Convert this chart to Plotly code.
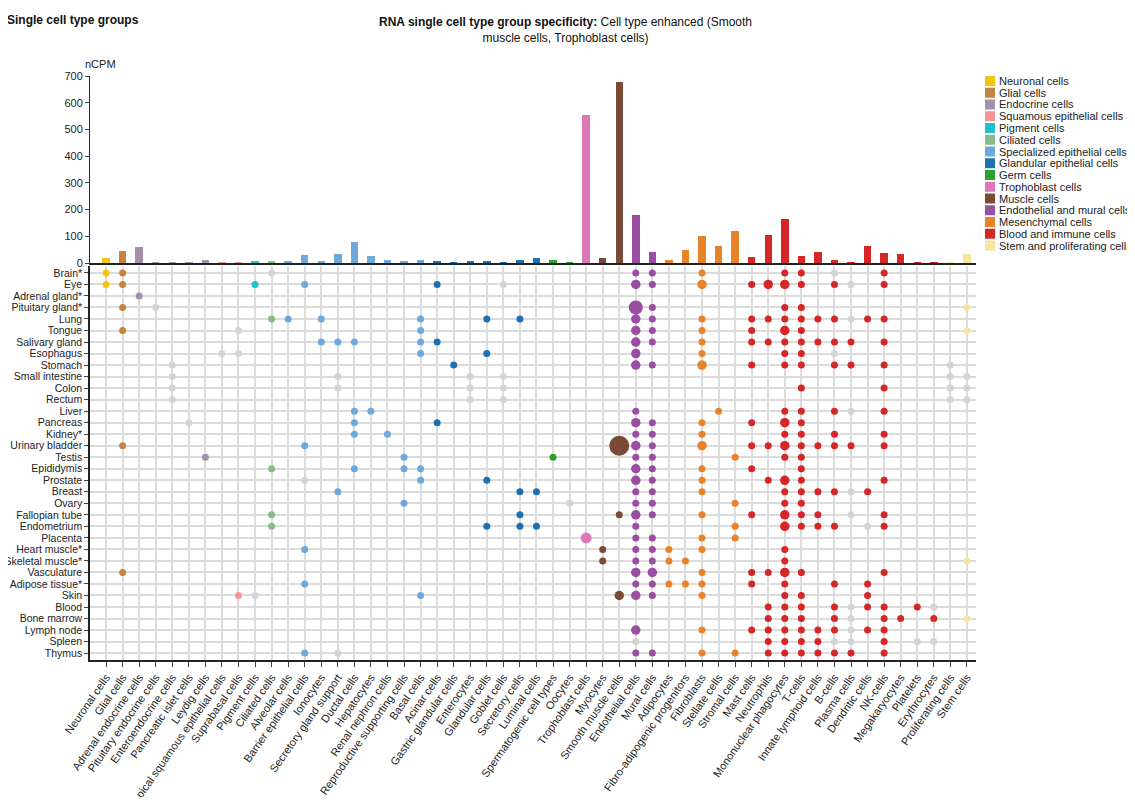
import plotly.graph_objects as go

cell_types = ["Neuronal cells","Glial cells","Adrenal endocrine cells","Pituitary endocrine cells","Enteroendocrine cells",
"Pancreatic islet cells","Leydig cells","Apical squamous epithelial cells","Suprabasal cells","Pigment cells","Ciliated cells",
"Alveolar cells","Barrier epithelial cells","Ionocytes","Secretory gland support","Ductal cells","Hepatocytes",
"Renal nephron cells","Reproductive supporting cells","Basal cells","Acinar cells","Gastric glandular cells","Enterocytes",
"Glandular cells","Goblet cells","Secretory cells","Luminal cells","Spermatogenic cell types","Oocytes","Trophoblast cells",
"Myocytes","Smooth muscle cells","Endothelial cells","Mural cells","Adipocytes","Fibro-adipogenic progenitors","Fibroblasts",
"Stellate cells","Stromal cells","Mast cells","Neutrophils","Mononuclear phagocytes","T-cells","Innate lymphoid cells",
"B-cells","Plasma cells","Dendritic cells","NK-cells","Megakaryocytes","Platelets","Erythrocytes","Proliferating cells","Stem cells"]

ncpm = [20,45,60,2,2,2,10,3,3,8,8,5,30,5,35,78,28,10,8,12,6,3,5,4,3,10,17,10,2,555,18,678,178,42,10,50,100,65,118,22,105,165,25,40,10,3,65,37,33,3,2,3,33]

group_names = ["Neuronal cells","Glial cells","Endocrine cells","Squamous epithelial cells","Pigment cells","Ciliated cells",
"Specialized epithelial cells","Glandular epithelial cells","Germ cells","Trophoblast cells","Muscle cells",
"Endothelial and mural cells","Mesenchymal cells","Blood and immune cells","Stem and proliferating cells"]
group_colors = ["#f5c40f","#c6843f","#a38fae","#f49595","#1fbfcf","#87bb87","#6fa8dc","#1f70b3","#2ca02c","#dd78b8",
"#7b4a36","#9a4ea1","#e8832a","#d62728","#f7e49e"]
group_of_type = [0,1,2,2,2,2,2,3,3,4,5,6,6,6,6,6,6,6,6,6,7,7,7,7,7,7,7,8,8,9,10,10,11,11,12,12,12,12,12,
13,13,13,13,13,13,13,13,13,13,13,13,14,14]

tissues = ["Brain*","Eye","Adrenal gland*","Pituitary gland*","Lung","Tongue","Salivary gland","Esophagus","Stomach",
"Small intestine","Colon","Rectum","Liver","Pancreas","Kidney*","Urinary bladder","Testis","Epididymis","Prostate",
"Breast","Ovary","Fallopian tube","Endometrium","Placenta","Heart muscle*","Skeletal muscle*","Vasculature",
"Adipose tissue*","Skin","Blood","Bone marrow","Lymph node","Spleen","Thymus"]

# per tissue: cell type index, optional suffix g=not enhanced (grey), L/X/Z/P = larger dot
tissue_dots = [
"0 1 10g 32 33 36 41 42 44g 47",
"0 1 9 12 20 24g 32L 33 36L 39 40L 41L 42 44 45g 47",
"2",
"1 3g 32X 33 41 42 52",
"10 11 13 19 23 25 32L 33 36 39 40 41 42 43 44 45g 46 47",
"1 8g 19 32L 33 36 39 41L 42 52",
"13 14 15 19 20 32L 33 36 39 40 41 42 43 44 45 47",
"7g 8g 19 23 32L 36 41 42 44g",
"4g 21 32L 33 36L 39 41 42 44 45 47 51g",
"4g 14g 22g 24g 51g 52g",
"4g 14g 22g 24g 42 47 51g 52g",
"4g 22g 24g 51g 52g",
"15 16 32 37 41 42 44 45g 47",
"5g 15 20 32L 33 36 39 41L 42",
"15 17 32 33 36 41 42 44 47",
"1 12 31Z 32L 33 36L 39 40 41L 42 43 44 45 47",
"6 18 27 32 33 38 41 42",
"10 15 18 19 32L 33 36 39 42",
"12g 19 23 32L 33 36 40 41L 42 47",
"14 25 26 32 33 36 41 42 43 44 45g 46",
"18 28g 32 33 38 41 42",
"10 25 31 32L 33 36 39 41L 42 43 45g 47",
"10 23 25 26 32 38 41L 42 43 44 46g 47",
"29P 32 33 36 38",
"12 30 32 33 34 36 41",
"30 32 33 34 35 41 52",
"1 32L 33L 36 39 40 41L 42 47",
"12 32 33 34 35 36 39 41 44 46",
"8 9g 19 31L 32L 33 36 41 42 46",
"40 41 42 44 45g 46 47 49 50g",
"40 41 42 44 45g 47 48 50 52",
"32L 36 39 40 41 42 43 44 45g 46 47",
"32g 40 41 42 43 44g 45g 47 49g 50g",
"12 14g 32 33 36 38 40 41 42 43 44 45 47",
]

size_map = {"": 7, "L": 9.5, "X": 14, "Z": 20, "P": 11}
xs, ys, cs, ss = [], [], [], []
for r, row in enumerate(tissue_dots):
    for tok in row.split():
        num = "".join(ch for ch in tok if ch.isdigit())
        suf = tok[len(num):]
        c = int(num)
        xs.append(c); ys.append(r)
        if suf == "g":
            cs.append("#d4d4d4"); ss.append(7)
        else:
            cs.append(group_colors[group_of_type[c]]); ss.append(size_map[suf])

W, H = 1119, 789
DX, DY = 10, 8
def px(x): return (x - DX) / W
def py(y): return 1 - (y - DY) / H

FONT = "Liberation Sans, Arial, sans-serif"
fig = go.Figure()
for g, name in enumerate(group_names):
    idx = [i for i in range(len(cell_types)) if group_of_type[i] == g]
    fig.add_trace(go.Bar(x=idx, y=[ncpm[i] for i in idx], name=name, marker_color=group_colors[g],
                         marker_line_width=0, width=0.45, xaxis="x", yaxis="y", showlegend=False))
fig.add_trace(go.Scatter(x=xs, y=ys, mode="markers", showlegend=False, xaxis="x2", yaxis="y2",
                         marker=dict(color=cs, size=ss, line_width=0, opacity=1)))

# manual legend
shapes, annots = [], []
for g, name in enumerate(group_names):
    yc = 81 + g * 11.75
    shapes.append(dict(type="rect", xref="paper", yref="paper", x0=px(987), x1=px(997),
                       y0=py(yc+5), y1=py(yc-5), fillcolor=group_colors[g], line_width=0))
    annots.append(dict(text=name, x=px(999), y=py(yc), xref="paper", yref="paper", xanchor="left",
                       yanchor="middle", showarrow=False, font=dict(size=11, color="#222")))

xr = [-0.97, 52.55]
xd = [px(92), px(978)]
fig.update_layout(
    width=W, height=H, margin=dict(l=0, r=0, t=0, b=0, autoexpand=False),
    paper_bgcolor="white", plot_bgcolor="white", font=dict(family=FONT, size=11, color="#222"),
    bargap=0, barmode="overlay", showlegend=False,
    xaxis=dict(domain=xd, range=xr, showticklabels=False, showgrid=False, showline=True, linecolor="#222",
               linewidth=1.5, anchor="y", zeroline=False, automargin=False),
    yaxis=dict(domain=[py(263), py(76)], range=[0, 700], dtick=100, showgrid=False, showline=True,
               linecolor="#222", ticks="outside", ticklen=4, zeroline=False, anchor="x", automargin=False),
    xaxis2=dict(domain=xd, range=xr, tickmode="array", tickvals=list(range(len(cell_types))), ticktext=cell_types,
                tickangle=-55, showgrid=True, gridcolor="#dcdcdc", gridwidth=2, showline=True, linecolor="#222",
                linewidth=1.5, ticks="outside", ticklen=5, anchor="y2", zeroline=False, tickfont=dict(size=11),
                automargin=False),
    yaxis2=dict(domain=[py(660), py(266)], range=[33.6, -0.6], tickmode="array", tickvals=list(range(len(tissues))),
                ticktext=tissues, showgrid=True, gridcolor="#dcdcdc", gridwidth=2, showline=True, linecolor="#222",
                linewidth=1.5, ticks="outside", ticklen=4, anchor="x2", zeroline=False, tickfont=dict(size=10.5),
                automargin=False),
    shapes=shapes,
    annotations=annots + [
        dict(text="<b>Single cell type groups</b>", x=px(7), y=py(20), xref="paper", yref="paper",
             xanchor="left", yanchor="middle", showarrow=False, font=dict(size=12, color="#111")),
        dict(text="<b>RNA single cell type group specificity:</b> Cell type enhanced (Smooth<br>muscle cells, Trophoblast cells)",
             x=px(567), y=py(30), xref="paper", yref="paper", xanchor="center", yanchor="middle",
             showarrow=False, font=dict(size=12, color="#111"), align="center"),
        dict(text="nCPM", x=px(85), y=py(64), xref="paper", yref="paper", xanchor="left", yanchor="middle",
             showarrow=False, font=dict(size=11)),
    ],
)
fig.write_html("out.html")
